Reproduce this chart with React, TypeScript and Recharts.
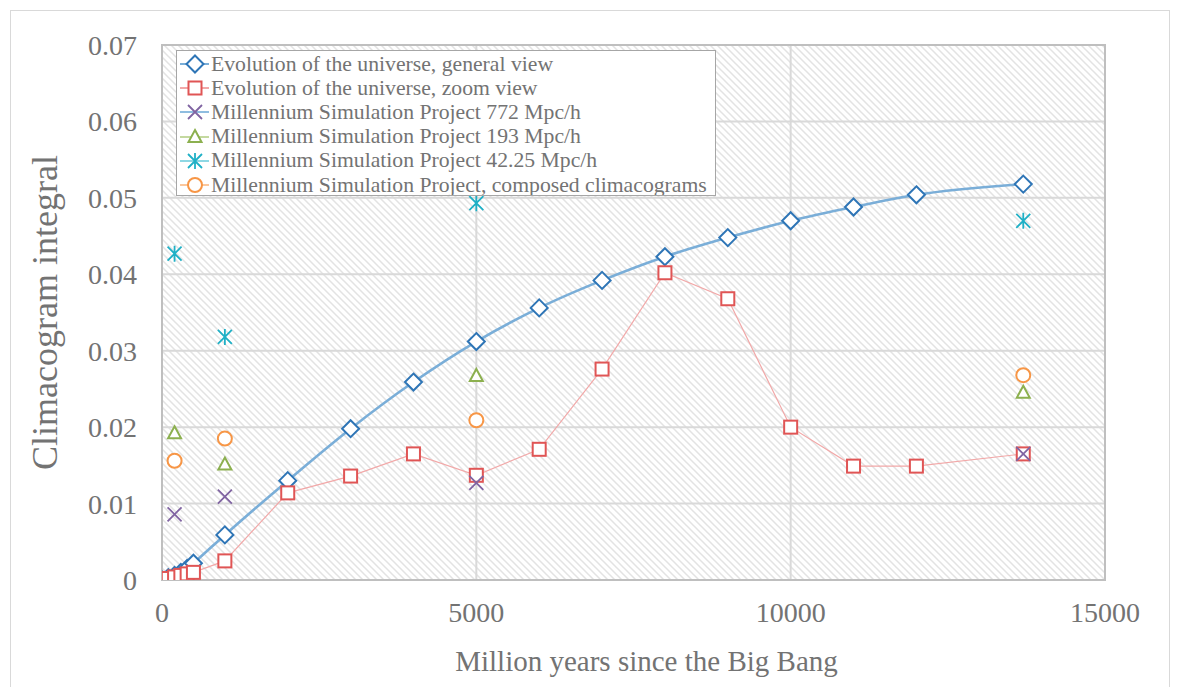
import React from "react";
import {
  ComposedChart,
  Line,
  Scatter,
  XAxis,
  YAxis,
  CartesianGrid,
  ReferenceArea,
} from "recharts";

// time axis, million years since the Big Bang
const years = [0, 100, 200, 300, 400, 500, 1000, 2000, 3000, 4000, 5000, 6000, 7000, 8000, 9000, 10000, 11000, 12000, 13700];
const generalView = [0, 0.0003, 0.0006, 0.001, 0.0015, 0.0022, 0.0059, 0.013, 0.0198, 0.0259, 0.0312, 0.0356, 0.0392, 0.0423, 0.0448, 0.047, 0.0488, 0.0504, 0.0518];
const zoomView = [0, 0.0002, 0.0004, 0.0006, 0.0008, 0.001, 0.0025, 0.0114, 0.0136, 0.0165, 0.0137, 0.0171, 0.0276, 0.0402, 0.0368, 0.02, 0.0149, 0.0149, 0.0165];

const msYears = [200, 1000, 5000, 13700];
const ms772 = [0.0086, 0.0109, 0.0127, 0.0165];
const ms193 = [0.0192, 0.0151, 0.0267, 0.0245];
const ms4225 = [0.0427, 0.0318, 0.0493, 0.047];
const msComposed = [0.0156, 0.0185, 0.0209, 0.0268];

const xTicks = [0, 5000, 10000, 15000];
const yTicks = [0, 0.01, 0.02, 0.03, 0.04, 0.05, 0.06, 0.07];

const FONT = "'Liberation Serif', 'Times New Roman', serif";
const TEXT = "#737373";

const toPoints = (xs: number[], ys: number[]) => xs.map((x, i) => ({ x, y: ys[i] }));

type MarkerProps = { cx: number; cy: number };

const Diamond = ({ cx, cy }: MarkerProps) => (
  <path
    d={`M${cx},${cy - 8.5}L${cx + 8.5},${cy}L${cx},${cy + 8.5}L${cx - 8.5},${cy}Z`}
    fill="#fff"
    stroke="#2e75b6"
    strokeWidth={2}
  />
);

const Square = ({ cx, cy }: MarkerProps) => (
  <rect x={cx - 6.5} y={cy - 6.5} width={13} height={13} fill="#fff" stroke="#e05555" strokeWidth={2} />
);

const Cross = ({ cx, cy }: MarkerProps) => (
  <path
    d={`M${cx - 7},${cy - 7}L${cx + 7},${cy + 7}M${cx - 7},${cy + 7}L${cx + 7},${cy - 7}`}
    stroke="#8064a2"
    strokeWidth={1.8}
    fill="none"
  />
);

const Triangle = ({ cx, cy }: MarkerProps) => (
  <path
    d={`M${cx},${cy - 7}L${cx + 6.5},${cy + 5}L${cx - 6.5},${cy + 5}Z`}
    fill="#fff"
    stroke="#8cb04f"
    strokeWidth={2}
  />
);

const Star = ({ cx, cy }: MarkerProps) => (
  <path
    d={`M${cx - 7},${cy - 7}L${cx + 7},${cy + 7}M${cx - 7},${cy + 7}L${cx + 7},${cy - 7}M${cx},${cy - 8}L${cx},${cy + 8}`}
    stroke="#1fb0c6"
    strokeWidth={1.8}
    fill="none"
  />
);

const Circle = ({ cx, cy }: MarkerProps) => (
  <circle cx={cx} cy={cy} r={7} fill="#fff" stroke="#f79646" strokeWidth={2} />
);

const legendItems = [
  { label: "Evolution of the universe, general view", line: "#7aaed8", Marker: Diamond },
  { label: "Evolution of the universe, zoom view", line: "#f2a8a8", Marker: Square },
  { label: "Millennium Simulation Project 772 Mpc/h", line: "#8fbde0", Marker: Cross },
  { label: "Millennium Simulation Project 193 Mpc/h", line: "#c4d9a0", Marker: Triangle },
  { label: "Millennium Simulation Project 42.25 Mpc/h", line: "#8fd8e4", Marker: Star },
  { label: "Millennium Simulation Project, composed climacograms", line: "#fbc79c", Marker: Circle },
];

function LegendBox() {
  return (
    <div
      style={{
        position: "absolute",
        left: 168,
        top: 42,
        width: 540,
        height: 146,
        background: "#fff",
        border: "1px solid #a6a6a6",
        fontFamily: FONT,
        fontSize: 21.7,
        color: TEXT,
        boxSizing: "border-box",
        paddingTop: 1,
        overflow: "hidden",
      }}
    >
      {legendItems.map(({ label, line, Marker }) => (
        <div key={label} style={{ display: "flex", alignItems: "center", height: 24.2, whiteSpace: "nowrap" }}>
          <svg width={34} height={22} style={{ flex: "none" }}>
            <line x1={3} y1={11} x2={32} y2={11} stroke={line} strokeWidth={2} />
            <Marker cx={18} cy={11} />
          </svg>
          <span>{label}</span>
        </div>
      ))}
    </div>
  );
}

export default function App() {
  const general = toPoints(years, generalView);
  const zoom = toPoints(years, zoomView);

  return (
    <div style={{ position: "relative", width: 1164, height: 679 }}>
      <div
        style={{
          position: "absolute",
          left: 2,
          top: 2,
          width: 1160,
          height: 700,
          border: "1px solid #d9d9d9",
          boxSizing: "border-box",
        }}
      />
      <ComposedChart width={1164} height={679} margin={{ top: 37, right: 67, bottom: 7, left: 24 }}>
        <defs>
          <pattern id="hatch" patternUnits="userSpaceOnUse" width={7} height={7}>
            <rect width={7} height={7} fill="#fff" />
            <path d="M-2,-2L9,9M-2,5L2,9M5,-2L9,2" stroke="#e3e3e3" strokeWidth={1.5} />
          </pattern>
        </defs>
        <CartesianGrid fill="url(#hatch)" stroke="#d9d9d9" strokeWidth={2} verticalValues={xTicks} horizontalValues={yTicks} />
        <ReferenceArea x1={0} x2={15000} y1={0} y2={0.07} fill="none" stroke="#bfbfbf" strokeWidth={2} ifOverflow="visible" />
        <XAxis
          type="number"
          dataKey="x"
          domain={[0, 15000]}
          ticks={xTicks}
          allowDataOverflow
          axisLine={{ stroke: "#bfbfbf", strokeWidth: 2 }}
          tickLine={false}
          tickSize={0}
          tickMargin={22}
          height={100}
          tick={{ fill: TEXT, fontSize: 28, fontFamily: FONT }}
          label={{
            content: ({ viewBox }: any) => (
              <text
                x={viewBox.x + viewBox.width / 2 + 13}
                y={viewBox.y + 91}
                textAnchor="middle"
                fill={TEXT}
                fontSize={29}
                fontFamily={FONT}
              >
                Million years since the Big Bang
              </text>
            ),
          }}
        />
        <YAxis
          type="number"
          dataKey="y"
          domain={[0, 0.07]}
          ticks={yTicks}
          allowDataOverflow
          width={130}
          axisLine={{ stroke: "#bfbfbf", strokeWidth: 2 }}
          tickLine={false}
          tickSize={0}
          tickMargin={25}
          tickFormatter={(v: number) => (v === 0 ? "0" : v.toFixed(2))}
          tick={{ fill: TEXT, fontSize: 28, fontFamily: FONT }}
          label={{
            content: ({ viewBox }: any) => {
              const x = viewBox.x + 25;
              const y = viewBox.y + viewBox.height / 2;
              return (
                <text
                  x={x}
                  y={y}
                  transform={`rotate(-90, ${x}, ${y})`}
                  textAnchor="middle"
                  fill={TEXT}
                  fontSize={36}
                  fontFamily={FONT}
                >
                  Climacogram integral
                </text>
              );
            },
          }}
        />
        <Line
          data={general}
          dataKey="y"
          type="monotone"
          stroke="#7aaed8"
          strokeWidth={2.6}
          dot={(p: any) => <Diamond key={`dm-${p.index}`} cx={p.cx} cy={p.cy} />}
          activeDot={false}
          isAnimationActive={false}
        />
        <Line
          data={zoom}
          dataKey="y"
          type="linear"
          stroke="#f2a8a8"
          strokeWidth={1.2}
          dot={(p: any) => <Square key={`sq-${p.index}`} cx={p.cx} cy={p.cy} />}
          activeDot={false}
          isAnimationActive={false}
        />
        <Scatter data={toPoints(msYears, ms772)} shape={(p: any) => <Cross cx={p.cx} cy={p.cy} />} isAnimationActive={false} />
        <Scatter data={toPoints(msYears, ms193)} shape={(p: any) => <Triangle cx={p.cx} cy={p.cy} />} isAnimationActive={false} />
        <Scatter data={toPoints(msYears, ms4225)} shape={(p: any) => <Star cx={p.cx} cy={p.cy} />} isAnimationActive={false} />
        <Scatter data={toPoints(msYears, msComposed)} shape={(p: any) => <Circle cx={p.cx} cy={p.cy} />} isAnimationActive={false} />
      </ComposedChart>
      <LegendBox />
    </div>
  );
}
